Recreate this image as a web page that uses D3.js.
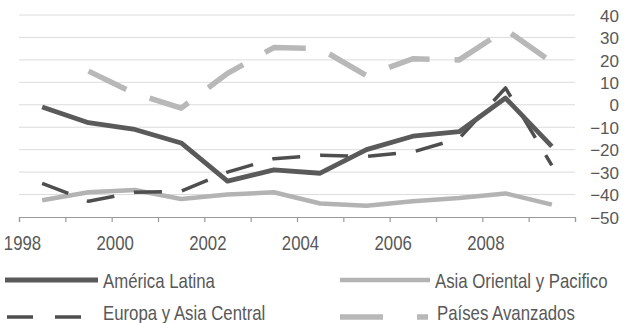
<!DOCTYPE html>
<html>
<head>
<meta charset="utf-8">
<script src="https://cdn.jsdelivr.net/npm/d3@7/dist/d3.min.js"></script>
<style>
  html, body { margin: 0; padding: 0; background: #fff; }
  svg { display: block; }
  text { font-family: "Liberation Sans", Arial, sans-serif; }
</style>
</head>
<body>
<svg id="chart" width="629" height="323"></svg>
<script>
// Years (each value sits at the middle of its year on the time axis)
const years = [1998, 1999, 2000, 2001, 2002, 2003, 2004, 2005, 2006, 2007, 2008, 2009];

const americaLatina   = [-1, -8, -11, -17, -34, -29, -30.5, -20, -14, -12, 3, -18.5];
const asiaOriental    = [-42.5, -39, -38, -42, -40, -39, -44, -45, -43, -41.5, -39.5, -44.5];
const europaAsia      = [-35, -43, -39, -38.5, -30, -24, -22.5, -23, -21, -15, 7.5, -27];
const paisesAvanzados = [null, 15, 5, -1.5, 14, 25.5, 25, 13, 20.5, 20, 33.5, 19];

const seriesNames = ["América Latina", "Asia Oriental y Pacifico", "Europa y Asia Central", "Países Avanzados"];
const yTicks = [40, 30, 20, 10, 0, -10, -20, -30, -40, -50];
const xLabels = [1998, 2000, 2002, 2004, 2006, 2008];

const svg = d3.select("#chart");
const textColor = "#585858";
const condense = 0.84; // horizontal squeeze for the condensed label face

const x = d3.scaleLinear().domain([1998, 2010]).range([19, 575]);
const y = d3.scaleLinear().domain([-50, 40]).range([217, 15]);

// Horizontal gridlines
svg.append("g")
  .selectAll("line")
  .data(yTicks.filter(v => v !== -50))
  .join("line")
  .attr("x1", x(1998)).attr("x2", x(2010))
  .attr("y1", d => y(d)).attr("y2", d => y(d))
  .attr("stroke", "#dcdcdc")
  .attr("stroke-width", 1);

// Right value axis (labels only)
const yAxis = svg.append("g")
  .attr("transform", `translate(619,0)`)
  .call(d3.axisRight(y).tickValues(yTicks).tickSize(0).tickPadding(0).tickFormat(d3.format("d")));
yAxis.select(".domain").remove();
yAxis.selectAll("text")
  .attr("text-anchor", "end")
  .attr("dy", "0.36em")
  .attr("fill", textColor)
  .style("font-size", "17px");

// Bottom time axis: tick marks every year, labels every other year
const xAxis = svg.append("g")
  .attr("transform", `translate(0,${y(-50)})`)
  .call(d3.axisBottom(x).tickValues(d3.range(1998, 2011)).tickSize(5).tickFormat(""));
xAxis.select(".domain").attr("stroke", "#9a9a9a").attr("stroke-width", 1.2);
xAxis.selectAll(".tick line").attr("stroke", "#9a9a9a").attr("stroke-width", 1.2);

const xLab = svg.append("g")
  .attr("transform", `translate(0,${y(-50)})`)
  .call(d3.axisBottom(x).tickValues(xLabels).tickSize(0).tickPadding(0).tickFormat(d3.format("d")));
xLab.select(".domain").remove();
xLab.selectAll("text")
  .attr("x", 0).attr("y", 0).attr("dy", 0)
  .attr("transform", `translate(3,33) scale(${condense},1)`)
  .attr("fill", textColor)
  .style("font-size", "20px");

// Series styling
const series = [
  { name: seriesNames[1], values: asiaOriental,    color: "#b3b3b3", width: 4.5, dash: null },
  { name: seriesNames[3], values: paisesAvanzados, color: "#b8b8b8", width: 5.5, dash: "42,25" },
  { name: seriesNames[2], values: europaAsia,      color: "#4e4e4e", width: 3.5, dash: "28,20" },
  { name: seriesNames[0], values: americaLatina,   color: "#5a5a5a", width: 4.8, dash: null }
];

const line = d3.line()
  .defined(d => d.v !== null)
  .x(d => x(d.year + 0.5))
  .y(d => y(d.v));

svg.append("g")
  .selectAll("path")
  .data(series)
  .join("path")
  .attr("d", s => line(years.map((yr, i) => ({ year: yr, v: s.values[i] }))))
  .attr("fill", "none")
  .attr("stroke", s => s.color)
  .attr("stroke-width", s => s.width)
  .attr("stroke-dasharray", s => s.dash)
  .attr("stroke-linejoin", "round");

// Legend: two columns, two rows
const legendItems = [
  { s: series[3], lx: 5,   len: 93, dash: null,    tx: 103, ly: 280, ty: 288 },
  { s: series[0], lx: 340, len: 90, dash: null,    tx: 435, ly: 280, ty: 288 },
  { s: series[2], lx: 7,   len: 78, dash: "26,22", tx: 103, ly: 317, ty: 320 },
  { s: series[1], lx: 340, len: 88, dash: "43,34", tx: 437, ly: 317, ty: 320 }
];
const lg = svg.append("g");
legendItems.forEach(it => {
  lg.append("line")
    .attr("x1", it.lx).attr("x2", it.lx + it.len)
    .attr("y1", it.ly).attr("y2", it.ly)
    .attr("stroke", it.s.color)
    .attr("stroke-width", it.s.width)
    .attr("stroke-dasharray", it.dash);
  lg.append("text")
    .attr("transform", `translate(${it.tx},${it.ty}) scale(${condense},1)`)
    .attr("fill", textColor)
    .style("font-size", "20px")
    .text(it.s.name);
});
</script>
</body>
</html>
